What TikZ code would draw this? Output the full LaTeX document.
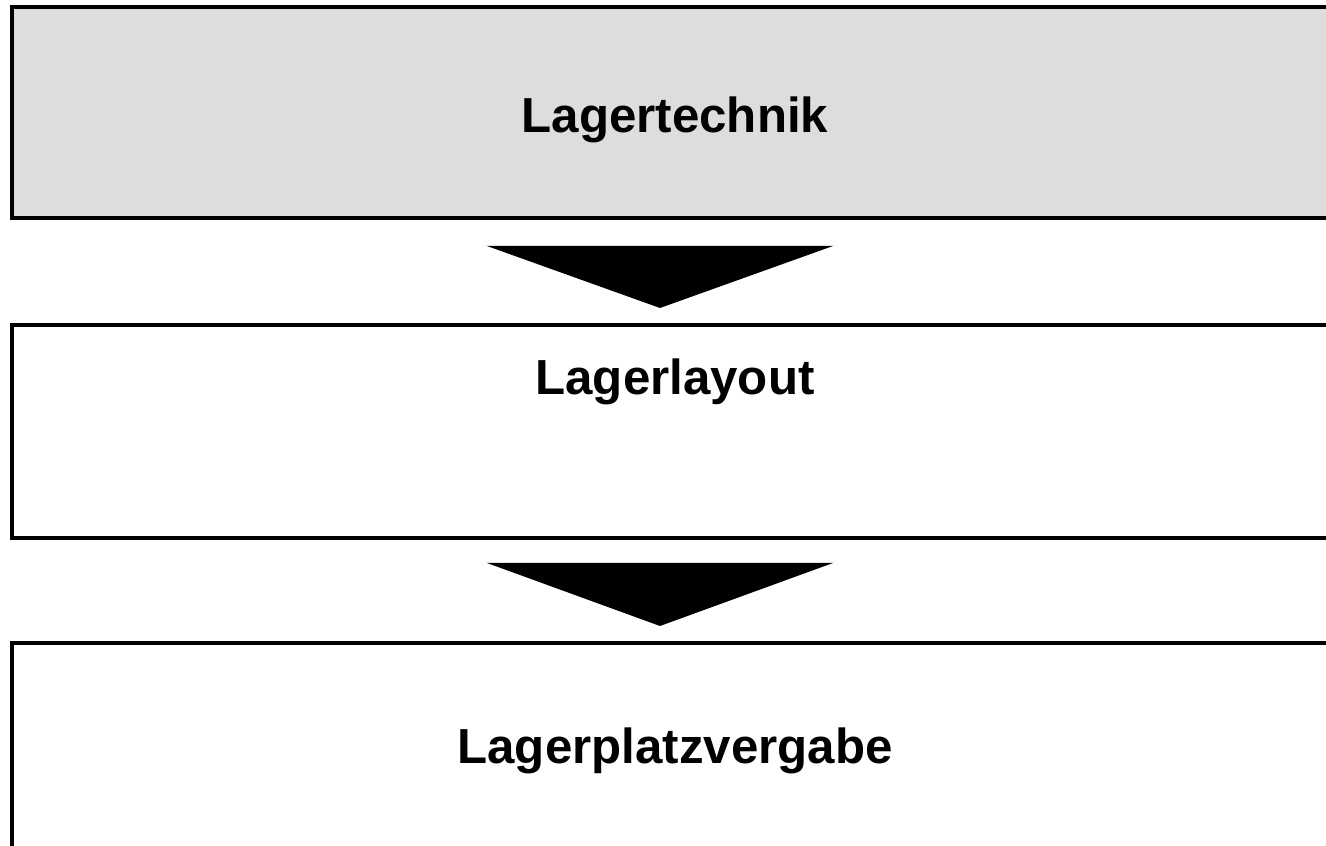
\documentclass[tikz,border=0pt]{standalone}
\usepackage{fontspec}
\setmainfont{Liberation Sans}
\usetikzlibrary{positioning,calc}

\definecolor{stepgray}{HTML}{DDDDDD}

\begin{document}
\begin{tikzpicture}[
    x=0.01cm, y=-0.01cm,
    stagebox/.style={
        draw,
        line width=1pt,
        rectangle,
        anchor=north west,
        minimum width=13.3cm,
        inner sep=0pt
    },
    title/.style={font=\fontsize{14}{16}\selectfont\bfseries, anchor=base},
    flow/.style={fill=black}
]

\useasboundingbox (0,0) rectangle (1326,846);
\clip (0,0) rectangle (1326,846);

\node[stagebox, fill=stepgray, minimum height=2.11cm] (technik) at (10,5) {};
\node[stagebox, minimum height=2.13cm] (layout) at (10,323) {};
\node[stagebox, minimum height=2.3cm] (vergabe) at (10,641) {};

\node[title] (ttechnik) at (675,133) {Lagertechnik};
\node[title] (tlayout) at (675,395) {Lagerlayout};
\node[title] (tvergabe) at (675,764) {Lagerplatzvergabe};

% arrows between the stages
\fill[flow] (487,246) -- (833,246) -- (660,308) -- cycle;
\fill[flow] (487,563) -- (833,563) -- (660,626) -- cycle;

\end{tikzpicture}
\end{document}
